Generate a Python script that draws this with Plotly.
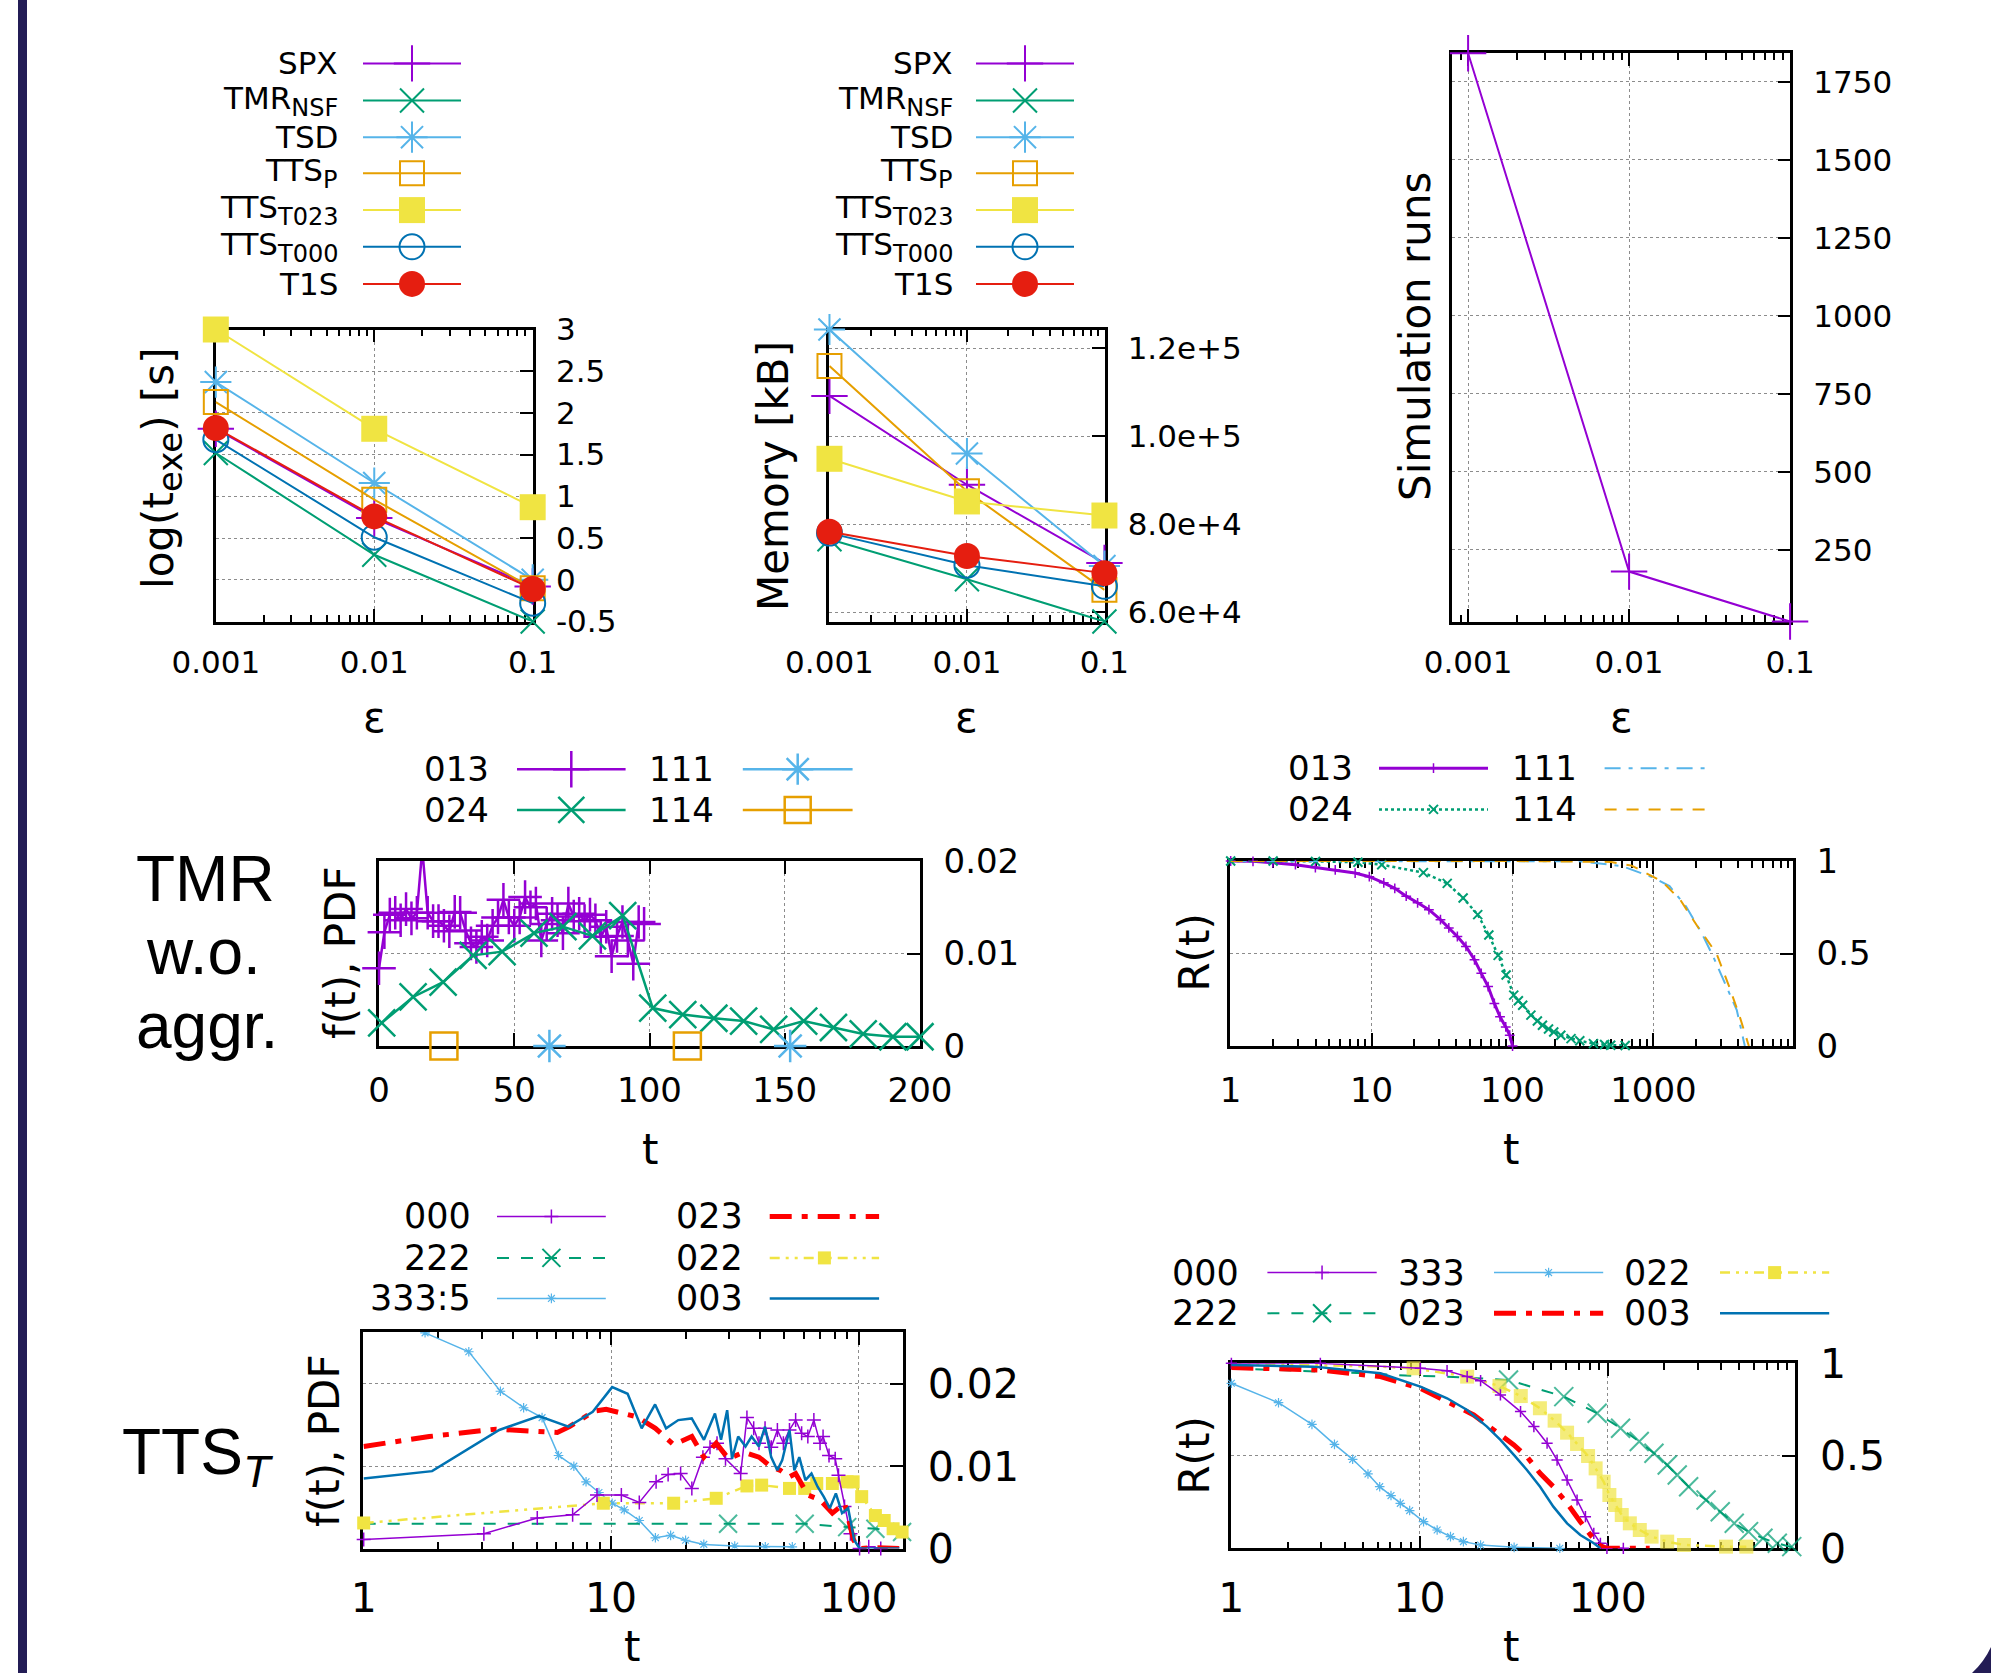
import plotly.graph_objects as go

W, H = 1991, 1673
FONT = "DejaVu Sans"
LFONT = "Liberation Sans"

PURPLE = "#9400d3"
GREEN = "#009e73"
CYAN = "#56b4e9"
ORANGE = "#e69f00"
YELLOW = "#f0e442"
BLUE = "#0072b2"
RED = "#e51e10"
BRED = "#ff0000"
NAVY = "#231c55"


def sub(s, px):
    return f"<sub><span style='font-size:{px}px'>{s}</span></sub>"


# ---------------- data: top row ----------------
eps = [0.001, 0.01, 0.1]
top_labels = ["SPX", "TMR" + sub("NSF", 24), "TSD", "TTS" + sub("P", 24),
              "TTS" + sub("T023", 24), "TTS" + sub("T000", 24), "T1S"]
logt_spx = [1.81, 0.74, -0.08]
logt_tmr = [1.52, 0.30, -0.50]
logt_tsd = [2.37, 1.16, 0.00]
logt_ttsp = [2.13, 0.96, -0.10]
logt_t023 = [3.00, 1.81, 0.87]
logt_t000 = [1.68, 0.51, -0.28]
logt_t1s = [1.82, 0.76, -0.11]

mem_spx = [109200, 89000, 71200]
mem_tmr = [76600, 67500, 57900]
mem_tsd = [124300, 96100, 70500]
mem_ttsp = [116000, 87500, 65100]
mem_t023 = [94900, 85200, 82000]
mem_t000 = [78000, 70700, 65900]
mem_t1s = [78300, 72800, 68900]

sim_runs = [1841, 180, 20]

# ---------------- data: TMR w.o. aggr. PDF ----------------
ml_t013 = [0, 2, 4, 6, 8, 10, 12, 14, 16, 18, 20, 22, 24, 26, 28, 30, 32, 34, 36, 38,
           40, 42, 44, 46, 48, 50, 52, 54, 56, 58, 60, 62, 64, 66, 68, 70, 72, 74, 76, 78,
           80, 82, 84, 86, 88, 90, 92, 94, 96, 98]
ml_f013 = [0.0084, 0.0123, 0.0142, 0.0144, 0.0136, 0.0148, 0.0138, 0.0144, 0.0213, 0.0144,
           0.0135, 0.0135, 0.0130, 0.0124, 0.0145, 0.0144, 0.0125, 0.0111, 0.0107, 0.0118,
           0.0114, 0.0130, 0.0139, 0.0158, 0.0139, 0.0130, 0.0139, 0.0161, 0.0150, 0.0154,
           0.0114, 0.0132, 0.0143, 0.0136, 0.0122, 0.0154, 0.0140, 0.0143, 0.0135, 0.0142,
           0.0136, 0.0118, 0.0129, 0.0097, 0.0119, 0.0134, 0.0114, 0.0089, 0.0134, 0.0132]
ml_t024 = [1, 12.6, 23.7, 34.8, 45.5, 57.3, 68.0, 78.9, 90.1, 101.2, 112.3, 123.8, 134.8,
           145.9, 157.0, 168.0, 179.0, 190.0, 200.0]
ml_f024 = [0.0025, 0.0053, 0.0069, 0.0098, 0.0102, 0.0122, 0.0129, 0.0119, 0.0141, 0.0041,
           0.0034, 0.0030, 0.0027, 0.0018, 0.0027, 0.0020, 0.0013, 0.0010, 0.0010]
ml_t111 = [63, 152]
ml_f111 = [0, 0]
ml_t114 = [24, 114]
ml_f114 = [0, 0]

# ---------------- data: TMR w.o. aggr. R(t) ----------------
mr_t013 = [1, 1.44, 1.99, 2.88, 3.99, 5.52, 7.64, 9.63, 12.2, 14.6, 17.6, 21.2, 25.5, 30.8,
           35.3, 40.6, 46.7, 53.7, 60.0, 67.1, 74.3, 81.5, 89.5, 95.5, 100]
mr_r013 = [1.0, 0.998, 0.99, 0.98, 0.965, 0.952, 0.935, 0.915, 0.882, 0.852, 0.81, 0.774,
           0.737, 0.683, 0.638, 0.592, 0.538, 0.466, 0.393, 0.321, 0.23, 0.158, 0.103, 0.058, 0.0]
mr_t024 = [1, 2, 4, 8, 11.8, 23.3, 34.4, 44.6, 56.6, 67.9, 79, 90, 102, 110, 118, 135, 150,
           163, 180, 196, 220, 260, 300, 375, 450, 497, 630]
mr_r024 = [1.0, 1.0, 0.998, 0.993, 0.98, 0.937, 0.879, 0.80, 0.71, 0.60, 0.49, 0.384, 0.275,
           0.245, 0.22, 0.167, 0.135, 0.112, 0.092, 0.076, 0.058, 0.04, 0.028, 0.013, 0.008,
           0.004, 0.003]
mr_t111 = [1, 100, 300, 595, 1000, 1300, 1700, 2200, 2650, 3300, 3900, 4450]
mr_r111 = [1, 1, 0.998, 0.973, 0.91, 0.864, 0.755, 0.61, 0.484, 0.32, 0.194, 0.0]
mr_t114 = [1, 100, 500, 700, 1150, 1550, 2050, 2800, 3450, 4100, 4750]
mr_r114 = [1, 1, 0.995, 0.975, 0.89, 0.79, 0.647, 0.5, 0.32, 0.157, 0.0]

# ---------------- data: TTS_T PDF ----------------
bl_t000 = [1, 3.06, 5.03, 6.99, 8.77, 11.0, 13.0, 15.2, 17.0, 19.1, 21.2, 23.5, 25.1, 26.8,
           29.0, 33.4, 35.4, 37.7, 39.6, 41.9, 44.4, 47.0, 49.7, 52.6, 55.7, 58.9, 62.4, 66.0,
           69.9, 71.9, 76.0, 80.5, 83.0, 87.8, 92.8, 101, 110, 123]
bl_f000 = [0.0011, 0.0018, 0.0037, 0.0041, 0.0065, 0.0065, 0.0056, 0.0081, 0.0090, 0.0091,
           0.0073, 0.0111, 0.0123, 0.0128, 0.0109, 0.0091, 0.0159, 0.0146, 0.0128, 0.0146,
           0.0123, 0.0144, 0.0128, 0.0144, 0.0156, 0.0140, 0.0136, 0.0156, 0.0128, 0.0136,
           0.0113, 0.0109, 0.0089, 0.0051, 0.0018, 0.0, 0.0002, 0.0]
bl_t222 = [1, 29.7, 60.6, 90, 117, 150]
bl_f222 = [0.0030, 0.0030, 0.0030, 0.0026, 0.0024, 0.0020]
bl_t333 = [1.77, 2.66, 3.57, 4.43, 5.26, 6.13, 7.07, 7.92, 8.93, 10.1, 11.3, 13.0, 15.1,
           17.4, 20.0, 23.7, 31.6, 42, 54]
bl_f333 = [0.0262, 0.0239, 0.0191, 0.0171, 0.0159, 0.0113, 0.0100, 0.0081, 0.0068, 0.0055,
           0.0047, 0.0034, 0.0013, 0.0016, 0.0010, 0.0005, 0.0003, 0.0002, 0.0002]
bl_t023 = [1.0, 1.84, 3.43, 6.06, 6.79, 8.54, 9.55, 12.7, 15.1, 17.9, 21.2, 23.7, 26.6, 29.8,
           34.4, 39.6, 44.4, 48.3, 52.6, 55.7, 62.4, 69.9, 78.4, 87.9, 95.6, 101, 117, 146]
bl_f023 = [0.0124, 0.0136, 0.0145, 0.0141, 0.0148, 0.0167, 0.0169, 0.0160, 0.0146, 0.0126,
           0.0136, 0.0111, 0.0128, 0.0109, 0.0117, 0.0111, 0.0099, 0.0095, 0.0087, 0.0091,
           0.0065, 0.0059, 0.0043, 0.0055, 0.0010, 0.0, 0.0001, 0.0]
bl_t022 = [1, 9.3, 17.9, 26.6, 35.4, 40.6, 52.6, 60.6, 67.8, 78.4, 89.9, 95.1, 103, 117, 127,
           138, 150]
bl_f022 = [0.0031, 0.0055, 0.0055, 0.0061, 0.0076, 0.0077, 0.0073, 0.0073, 0.0079, 0.0079,
           0.0081, 0.0081, 0.0063, 0.0040, 0.0034, 0.0024, 0.0020]
bl_t003 = [1.00, 1.89, 3.53, 5.11, 6.72, 8.43, 10.1, 11.66, 13.29, 15.06, 16.68, 18.69, 21.18,
           23.73, 26.29, 27.82, 29.45, 30.82, 32.63, 34.93, 36.98, 39.58, 41.90, 44.36, 46.96,
           49.14, 52.60, 55.05, 57.62, 61.0, 64.55, 68.32, 72.33, 76.56, 81.0, 85.8, 90.8,
           96.1, 101.1, 116.6, 146.4]
bl_f003 = [0.0085, 0.0094, 0.0144, 0.0161, 0.0148, 0.0166, 0.0196, 0.0188, 0.0146, 0.0175,
           0.0146, 0.0156, 0.0158, 0.0132, 0.0164, 0.0132, 0.0168, 0.0109, 0.0136, 0.0124,
           0.0136, 0.0124, 0.0148, 0.0111, 0.0095, 0.0107, 0.0144, 0.0095, 0.0111, 0.0083,
           0.0091, 0.0075, 0.0063, 0.0049, 0.0067, 0.0043, 0.0049, 0.0010, 0.0, 0.0, 0.0]

# ---------------- data: TTS_T R(t) ----------------
br_t000 = [1, 2.97, 10.1, 14.0, 17.9, 21.1, 26.9, 34.4, 40.5, 47.6, 53.8, 60.8, 68.7, 76.1,
           84.3, 91.4, 99, 121]
br_r000 = [1.0, 1.0, 0.973, 0.96, 0.928, 0.906, 0.829, 0.739, 0.658, 0.568, 0.477, 0.369,
           0.261, 0.171, 0.081, 0.027, 0.0, 0.0]
br_t222 = [1, 1.82, 2.97, 5.05, 9.3, 14.0, 29.7, 58.4, 87.8, 117, 147, 176, 207, 234, 269,
           333, 396, 470, 560, 668, 796, 950, 1000]
br_r222 = [0.973, 0.964, 0.955, 0.946, 0.932, 0.928, 0.91, 0.82, 0.73, 0.649, 0.577, 0.514,
           0.45, 0.396, 0.333, 0.261, 0.198, 0.135, 0.09, 0.054, 0.027, 0.009, 0.0]
br_t333 = [1, 1.78, 2.68, 3.53, 4.41, 5.32, 6.14, 7.05, 7.9, 8.86, 10.5, 12.4, 14.6, 17.1,
           21.1, 31.8, 55.6]
br_r333 = [0.892, 0.787, 0.67, 0.562, 0.481, 0.402, 0.333, 0.285, 0.243, 0.204, 0.144, 0.099,
           0.063, 0.036, 0.018, 0.005, 0.0]
br_t023 = [1, 1.82, 2.97, 6.2, 10.1, 14.0, 19.4, 24.8, 31.7, 37.2, 43.7, 51.4, 60.8, 71.5,
           80.9, 91.4, 99, 131, 167]
br_r023 = [0.977, 0.973, 0.964, 0.928, 0.865, 0.793, 0.721, 0.64, 0.559, 0.495, 0.405, 0.333,
           0.243, 0.144, 0.072, 0.013, 0.0, 0.0, 0.0]
br_t022 = [1, 2.97, 6.2, 9.3, 17.9, 26.6, 34.5, 43.6, 52.2, 60.8, 68.7, 78.6, 86.2, 95.1, 102,
           109.6, 118.7, 131, 148, 171, 207, 254, 425, 545]
br_r022 = [1.0, 0.991, 0.982, 0.973, 0.928, 0.877, 0.823, 0.757, 0.69, 0.625, 0.564, 0.499,
           0.432, 0.36, 0.288, 0.234, 0.18, 0.135, 0.099, 0.063, 0.036, 0.018, 0.009, 0.009]
br_t003 = [1, 2.74, 6.2, 10.1, 14.0, 17.9, 22.8, 26.9, 31.7, 37.2, 43.7, 51.4, 60.8, 71.5,
           84.3, 91.4]
br_r003 = [0.991, 0.982, 0.946, 0.874, 0.811, 0.748, 0.658, 0.586, 0.505, 0.423, 0.333,
           0.225, 0.135, 0.072, 0.027, 0.0]

# ---------------- layout geometry (pixels) ----------------
PANELS = {
    1: ((215.5, 533.0), (329.5, 621.5)),
    2: ((829.2, 1104.7), (329.5, 621.5)),
    3: ((1452.0, 1790.4), (53.3, 621.5)),
    4: ((379.0, 920.0), (861.0, 1046.0)),
    5: ((1230.4, 1793.0), (861.0, 1046.0)),
    6: ((363.2, 902.8), (1332.0, 1548.5)),
    7: ((1231.0, 1795.0), (1363.3, 1548.3)),
}

fig = go.Figure()
layout = {}


def ax_name(i, kind):
    return kind + ("" if i == 1 else str(i))


def setup_axes(i, xtype, xrange, yrange, fsize, xdtick=None, yvals=None, ytext=None,
               xstand=12, ystand=14):
    (l, r), (t, b) = PANELS[i]
    common = dict(showline=True, linecolor="black", linewidth=2.5, ticks="inside",
                  ticklen=13, tickwidth=2, tickcolor="black", showgrid=True,
                  gridcolor="#8c8c8c", griddash="dot", gridwidth=1.3, zeroline=False,
                  tickfont=dict(family=FONT, size=fsize, color="black"),
                  layer="below traces", fixedrange=True, automargin=False)
    xa = dict(common, domain=[l / W, r / W], type=xtype, range=xrange,
              anchor=ax_name(i, "y"), mirror="allticks", ticklabelstandoff=xstand)
    if xtype == "log":
        xa.update(dtick=1, exponentformat="none",
                  minor=dict(ticks="inside", ticklen=7, tickwidth=1.5, tickcolor="black",
                             dtick="D1", showgrid=False))
    elif xdtick is not None:
        xa.update(dtick=xdtick, tick0=0)
    ya = dict(common, domain=[1 - b / H, 1 - t / H], range=yrange, side="right",
              anchor=ax_name(i, "x"), mirror=True, ticklabelstandoff=ystand,
              tickmode="array", tickvals=yvals, ticktext=ytext)
    layout["xaxis" + ("" if i == 1 else str(i))] = xa
    layout["yaxis" + ("" if i == 1 else str(i))] = ya


setup_axes(1, "log", [-3.002, -0.998], [-0.5, 3], 31,
           yvals=[-0.5, 0, 0.5, 1, 1.5, 2, 2.5, 3],
           ytext=["-0.5", "0", "0.5", "1", "1.5", "2", "2.5", "3"])
setup_axes(2, "log", [-3.002, -0.998], [57900, 124300], 31,
           yvals=[60000, 80000, 100000, 120000],
           ytext=["6.0e+4", "8.0e+4", "1.0e+5", "1.2e+5"])
setup_axes(3, "log", [-3.1, -0.998], [20, 1841], 31,
           yvals=[250, 500, 750, 1000, 1250, 1500, 1750],
           ytext=["250", "500", "750", "1000", "1250", "1500", "1750"])
setup_axes(4, "linear", [0, 200], [0, 0.02], 34, xdtick=50,
           yvals=[0, 0.01, 0.02], ytext=["0", "0.01", "0.02"])
setup_axes(5, "log", [-0.002, 3.99], [0, 1], 34,
           yvals=[0, 0.5, 1], ytext=["0", "0.5", "1"])
setup_axes(6, "log", [-0.002, 2.179], [0, 0.0263], 41,
           yvals=[0, 0.01, 0.02], ytext=["0", "0.01", "0.02"])
setup_axes(7, "log", [-0.002, 2.995], [0, 1], 41,
           yvals=[0, 0.5, 1], ytext=["0", "0.5", "1"])

# overlay axis in page pixels (for legends, labels, decorations)
layout["xaxis8"] = dict(domain=[0, 1], range=[0, W], visible=False, fixedrange=True,
                        anchor="y8", automargin=False)
layout["yaxis8"] = dict(domain=[0, 1], range=[H, 0], visible=False, fixedrange=True,
                        anchor="x8", automargin=False)


def add_series(i, x, y, color, width, dash="solid", symbol=None, size=0, mlw=2,
               sizes=None, clip=False, mode=None):
    kw = dict(x=x, y=y, xaxis=ax_name(i, "x"), yaxis=ax_name(i, "y"), showlegend=False,
              hoverinfo="skip", cliponaxis=clip,
              line=dict(color=color, width=width, dash=dash))
    if symbol is None:
        kw["mode"] = "lines"
    else:
        kw["mode"] = mode or "lines+markers"
        kw["marker"] = dict(symbol=symbol, size=sizes if sizes is not None else size,
                            color=color, line=dict(color=color, width=mlw))
    fig.add_trace(go.Scatter(**kw))


def legend_item(label, lx, x0, x1, y, fsize, color, width, dash="solid", symbol=None,
                size=0, mlw=2):
    fig.add_annotation(x=lx, y=y, xref="x8", yref="y8", text=label, showarrow=False,
                       xanchor="right", yanchor="middle",
                       font=dict(family=FONT, size=fsize, color="black"))
    fig.add_trace(go.Scatter(x=[x0, x1], y=[y, y], mode="lines", xaxis="x8", yaxis="y8",
                             line=dict(color=color, width=width, dash=dash),
                             showlegend=False, hoverinfo="skip"))
    if symbol is not None:
        fig.add_trace(go.Scatter(x=[(x0 + x1) / 2], y=[y], mode="markers", xaxis="x8",
                                 yaxis="y8", showlegend=False, hoverinfo="skip",
                                 marker=dict(symbol=symbol, size=size, color=color,
                                             line=dict(color=color, width=mlw))))


def text(x, y, s, size, angle=0, family=FONT, xanchor="center"):
    fig.add_annotation(x=x, y=y, xref="x8", yref="y8", text=s, showarrow=False,
                       textangle=angle, xanchor=xanchor, yanchor="middle",
                       font=dict(family=family, size=size, color="black"))


# ---------------- top row ----------------
top_styles = [
    (PURPLE, "cross-thin", 26, 2),
    (GREEN, "x-thin", 24, 2),
    (CYAN, "asterisk", 26, 2),
    (ORANGE, "square-open", 24, 2),
    (YELLOW, "square", 26, 0),
    (BLUE, "circle-open", 25, 2),
    (RED, "circle", 26, 0),
]
logt_series = [logt_spx, logt_tmr, logt_tsd, logt_ttsp, logt_t023, logt_t000, logt_t1s]
mem_series = [mem_spx, mem_tmr, mem_tsd, mem_ttsp, mem_t023, mem_t000, mem_t1s]
for (c, sym, sz, lw), yv in zip(top_styles, logt_series):
    add_series(1, eps, yv, c, 2, symbol=sym, size=sz, mlw=lw)
for (c, sym, sz, lw), yv in zip(top_styles, mem_series):
    add_series(2, eps, yv, c, 2, symbol=sym, size=sz, mlw=lw)
add_series(3, eps, sim_runs, PURPLE, 2, symbol="cross-thin", size=26, mlw=2)

TOP_ROWS = [63.4, 100.5, 137.2, 173.3, 210.1, 246.8, 283.9]
for (c, sym, sz, lw), lab, yy in zip(top_styles, top_labels, TOP_ROWS):
    legend_item(lab, 340, 363, 461, yy, 31, c, 2, symbol=sym, size=sz, mlw=lw)
    legend_item(lab, 954.5, 976, 1074, yy, 31, c, 2, symbol=sym, size=sz, mlw=lw)

text(162, 468, "log(t" + sub("exe", 34) + ") [s]", 42, angle=-90)
text(773, 476, "Memory [kB]", 42, angle=-90)
text(1415, 337, "Simulation runs", 42, angle=-90)
text(374, 717, "ε", 42)
text(966, 717, "ε", 42)
text(1621, 717, "ε", 42)

# ---------------- middle row ----------------
add_series(4, ml_t013, ml_f013, PURPLE, 2.5, symbol="cross-thin", size=24, mlw=2.5)
add_series(4, ml_t024, ml_f024, GREEN, 2.5, symbol="x-thin", size=27, mlw=2.5)
add_series(4, ml_t111, ml_f111, CYAN, 2.5, symbol="asterisk", size=27, mlw=2.5,
           mode="markers")
add_series(4, ml_t114, ml_f114, ORANGE, 2.5, symbol="square-open", size=27, mlw=2.5,
           mode="markers")

DASHDOT = "16px,8px,4px,8px"
add_series(5, mr_t013, mr_r013, PURPLE, 3, symbol="cross-thin", size=7, mlw=1.5)
add_series(5, mr_t024, mr_r024, GREEN, 2.5, dash="dot", symbol="x-thin", size=9, mlw=2)
add_series(5, mr_t111, mr_r111, CYAN, 2, dash=DASHDOT)
add_series(5, mr_t114, mr_r114, ORANGE, 2, dash="12px,10px")

ML_ROWS = [769.2, 809.9]
legend_item("013", 490.7, 517, 625.6, ML_ROWS[0], 34, PURPLE, 2.5, symbol="cross-thin", size=26, mlw=2.5)
legend_item("024", 490.7, 517, 625.6, ML_ROWS[1], 34, GREEN, 2.5, symbol="x-thin", size=26, mlw=2.5)
legend_item("111", 716.4, 742.8, 852.6, ML_ROWS[0], 34, CYAN, 2.5, symbol="asterisk", size=26, mlw=2.5)
legend_item("114", 716.4, 742.8, 852.6, ML_ROWS[1], 34, ORANGE, 2.5, symbol="square-open", size=26, mlw=2.5)

MR_ROWS = [768.2, 809.4]
legend_item("013", 1354.7, 1379, 1488, MR_ROWS[0], 34, PURPLE, 3, symbol="cross-thin", size=7, mlw=1.5)
legend_item("024", 1354.7, 1379, 1488, MR_ROWS[1], 34, GREEN, 2.5, dash="dot", symbol="x-thin", size=9, mlw=2)
legend_item("111", 1579, 1604.6, 1705.6, MR_ROWS[0], 34, CYAN, 2, dash=DASHDOT)
legend_item("114", 1579, 1604.6, 1705.6, MR_ROWS[1], 34, ORANGE, 2, dash="12px,10px")

text(340, 953, "f(t), PDF", 42, angle=-90)
text(1193.6, 953, "R(t)", 42, angle=-90)
text(649.5, 1149, "t", 42)
text(1511, 1149, "t", 42)
text(205, 879, "TMR", 64, family=LFONT)
text(203, 952, "w.o.", 64, family=LFONT)
text(207, 1026, "aggr.", 64, family=LFONT)

# ---------------- bottom row ----------------
DDD = "10px,6px,3px,6px,3px,6px"
RDD = "22px,10px,6px,10px"
GDASH = "12px,12px"
add_series(6, bl_t333, bl_f333, CYAN, 1.5, symbol="asterisk", size=8, mlw=1.2, clip=True)
add_series(6, bl_t222, bl_f222, GREEN, 2, dash=GDASH, symbol="x-thin", mlw=2,
           sizes=[0, 18, 18, 18, 18, 18])
add_series(6, bl_t022, bl_f022, YELLOW, 2.5, dash=DDD, symbol="square", size=13, mlw=0)
add_series(6, bl_t000, bl_f000, PURPLE, 1.5, symbol="cross-thin", size=10, mlw=1.5)
add_series(6, bl_t023, bl_f023, BRED, 5, dash=RDD)
add_series(6, bl_t003, bl_f003, BLUE, 2.5)

add_series(7, br_t333, br_r333, CYAN, 1.5, symbol="asterisk", size=8, mlw=1.2)
add_series(7, br_t222, br_r222, GREEN, 2, dash=GDASH, symbol="x-thin", mlw=2,
           sizes=[0, 0, 0, 0, 0, 0] + [19] * 17)
add_series(7, br_t022, br_r022, YELLOW, 2.5, dash=DDD, symbol="square", mlw=0,
           sizes=[0, 0, 0] + [14] * 21)
add_series(7, br_t000, br_r000, PURPLE, 1.5, symbol="cross-thin", size=8, mlw=1.5)
add_series(7, br_t023, br_r023, BRED, 5, dash=RDD)
add_series(7, br_t003, br_r003, BLUE, 2.5)

BL_ROWS = [1216.4, 1257.9, 1298.4]
legend_item("000", 472.6, 497, 605.8, BL_ROWS[0], 35, PURPLE, 1.5, symbol="cross-thin", size=10, mlw=1.5)
legend_item("222", 472.6, 497, 605.8, BL_ROWS[1], 35, GREEN, 2, dash=GDASH, symbol="x-thin", size=18, mlw=2)
legend_item("333:5", 472.6, 497, 605.8, BL_ROWS[2], 35, CYAN, 1.5, symbol="asterisk", size=8, mlw=1.2)
legend_item("023", 745.2, 769.7, 879.1, BL_ROWS[0], 35, BRED, 5, dash=RDD)
legend_item("022", 745.2, 769.7, 879.1, BL_ROWS[1], 35, YELLOW, 2.5, dash=DDD, symbol="square", size=13, mlw=0)
legend_item("003", 745.2, 769.7, 879.1, BL_ROWS[2], 35, BLUE, 2.5)

BR_ROWS = [1272.6, 1313.3]
legend_item("000", 1240.7, 1267.4, 1376.7, BR_ROWS[0], 35, PURPLE, 1.5, symbol="cross-thin", size=10, mlw=1.5)
legend_item("222", 1240.7, 1267.4, 1376.7, BR_ROWS[1], 35, GREEN, 2, dash=GDASH, symbol="x-thin", size=18, mlw=2)
legend_item("333", 1466.6, 1494, 1603.2, BR_ROWS[0], 35, CYAN, 1.5, symbol="asterisk", size=8, mlw=1.2)
legend_item("023", 1466.6, 1494, 1603.2, BR_ROWS[1], 35, BRED, 5, dash=RDD)
legend_item("022", 1693.2, 1720, 1829.2, BR_ROWS[0], 35, YELLOW, 2.5, dash=DDD, symbol="square", size=13, mlw=0)
legend_item("003", 1693.2, 1720, 1829.2, BR_ROWS[1], 35, BLUE, 2.5)

text(324, 1441, "f(t), PDF", 42, angle=-90)
text(1193.6, 1456, "R(t)", 42, angle=-90)
text(632, 1646, "t", 42)
text(1511, 1646, "t", 42)
text(198, 1456, "TTS<sub><i>T</i></sub>", 64, family=LFONT)

# ---------------- decorations ----------------
shapes = [
    dict(type="rect", xref="x8", yref="y8", x0=18, x1=27, y0=0, y1=H,
         fillcolor=NAVY, line=dict(width=0)),
    dict(type="path", xref="x8", yref="y8",
         path=f"M 1972 {H} Q 1984 1662 {W} 1647 L {W} {H} Z",
         fillcolor=NAVY, line=dict(width=0)),
]

fig.update_layout(width=W, height=H,
                  margin=dict(l=0, r=0, t=0, b=0, pad=0, autoexpand=False),
                  paper_bgcolor="white", plot_bgcolor="rgba(0,0,0,0)",
                  showlegend=False, shapes=shapes, **layout)

fig.write_html("out.html", config={"displayModeBar": False},
               post_script="document.body.style.margin='0px';")
